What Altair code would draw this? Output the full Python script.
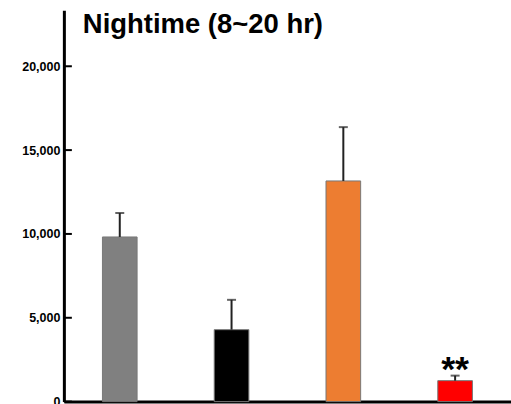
import altair as alt
import pandas as pd

groups = ["G1", "G2", "G3", "G4"]
means = [9820, 4290, 13160, 1250]
err_top = [11250, 6070, 16370, 1550]
colors = ["#808080", "#000000", "#ED7D31", "#FF0000"]
sig = ["", "", "", "**"]
tick_values = [0, 5000, 10000, 15000, 20000]
title_text = "Nightime (8~20 hr)"

df = pd.DataFrame({"group": groups, "mean": means, "top": err_top, "color": colors, "sig": sig})
ticks_df = pd.DataFrame({"v": tick_values})

W, H = 448, 392
ydom = [0, 23333]

xaxis = alt.Axis(labels=False, ticks=False, title=None, domainColor="#000", domainWidth=3,
                 grid=False, orient="bottom")
xscale = alt.Scale(paddingInner=0.69, paddingOuter=0.345)
yaxis = alt.Axis(values=tick_values, format=",d", title=None, grid=False, ticks=False,
                 domainColor="#000", domainWidth=3, labelFont="Liberation Sans",
                 labelFontWeight="bold", labelFontSize=12.5, labelColor="#000",
                 labelPadding=4, orient="left")
yscale = alt.Scale(domain=ydom, nice=False, zero=True)

x = alt.X("group:N", sort=groups, axis=xaxis, scale=xscale)

base = alt.Chart(df)
bars = base.mark_bar(stroke="#777", strokeWidth=1).encode(
    x=x, y=alt.Y("mean:Q", scale=yscale, axis=yaxis), color=alt.Color("color:N", scale=None))
err = base.mark_rule(color="#222", strokeWidth=2).encode(
    x=x, y=alt.Y("mean:Q", scale=yscale, axis=yaxis), y2="top:Q")
cap = base.mark_tick(color="#222", thickness=2, size=9, orient="horizontal").encode(
    x=x, y=alt.Y("top:Q", scale=yscale, axis=yaxis))
stars = base.mark_text(font="Liberation Sans", fontWeight="bold", fontSize=36, color="#000",
                       baseline="alphabetic", dy=5).encode(
    x=x, y=alt.Y("top:Q", scale=yscale, axis=yaxis), text="sig:N")
yt = alt.Chart(ticks_df).mark_rule(color="#000", strokeWidth=2).encode(
    y=alt.Y("v:Q", scale=yscale, axis=yaxis), x=alt.value(0), x2=alt.value(8))
title = alt.Chart(ticks_df.head(1)).mark_text(
    font="Liberation Sans", fontWeight="bold", fontSize=27.5, align="left", baseline="alphabetic",
    color="#000").encode(x=alt.value(19), y=alt.value(23), text=alt.value(title_text))

chart = alt.layer(bars, err, cap, stars, yt, title).properties(
    width=W, height=H, padding={"left": 64, "top": 10, "right": 0, "bottom": 2},
    autosize=alt.AutoSizeParams(type="none"), background="white"
).configure_view(strokeWidth=0, stroke="transparent")

chart.save("out.html", embed_options={"renderer": "svg", "actions": False})
